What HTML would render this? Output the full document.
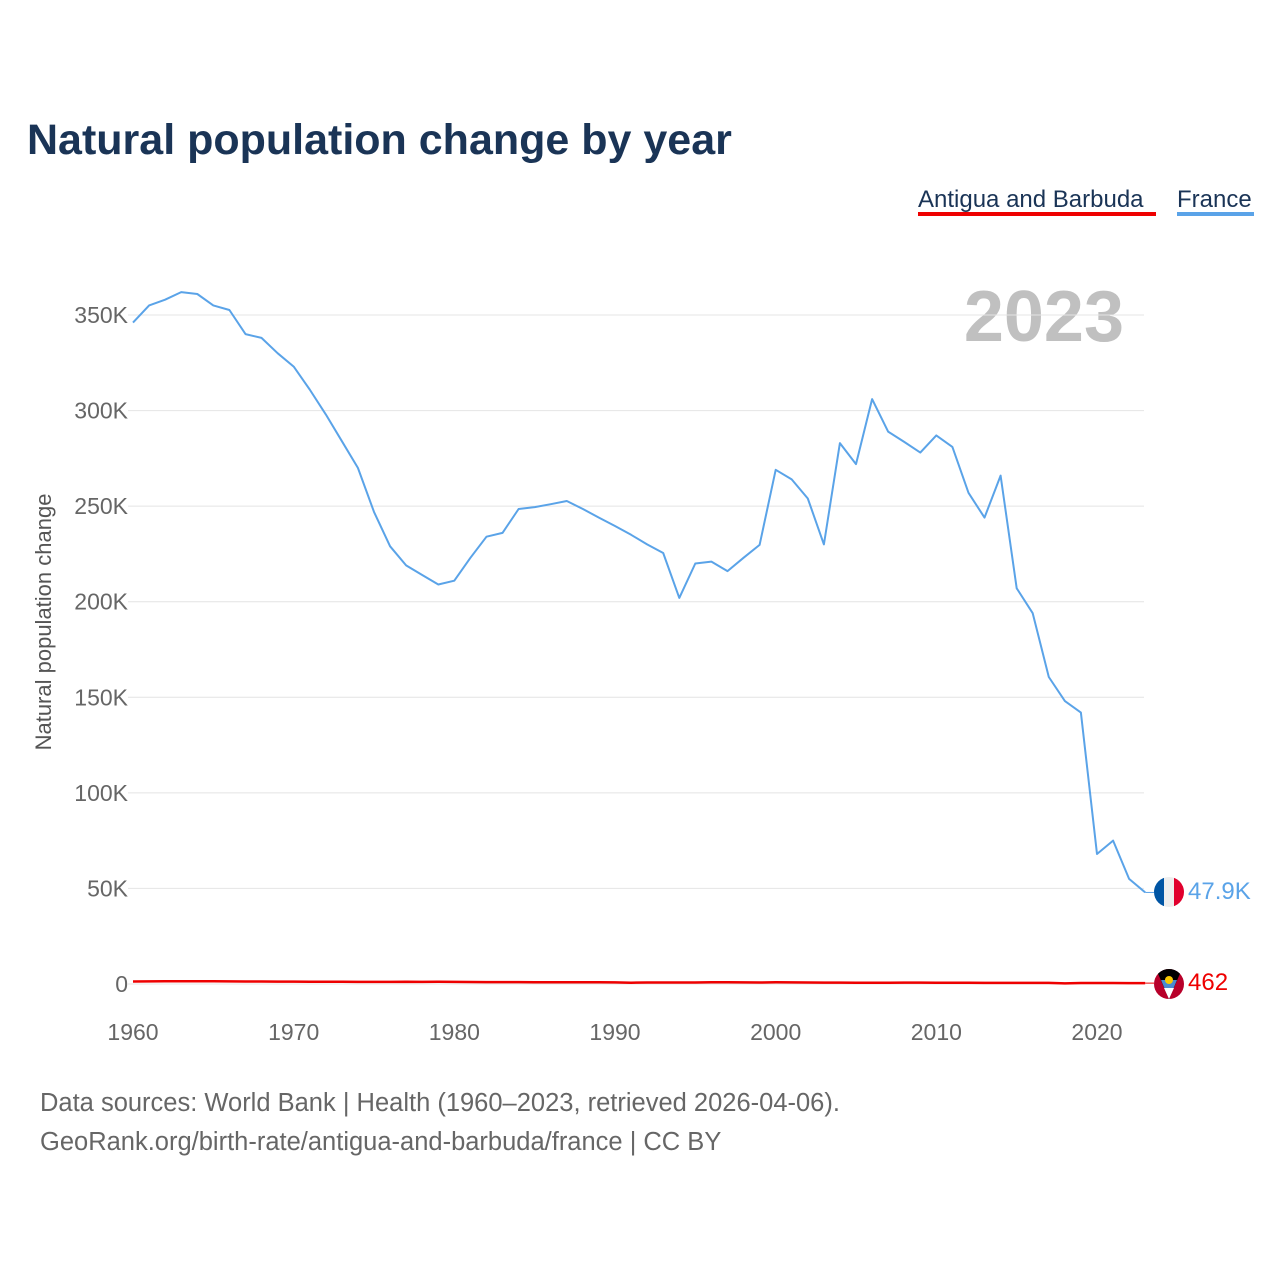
<!DOCTYPE html>
<html><head><meta charset="utf-8"><style>
body{margin:0;background:#fff;font-family:"Liberation Sans",sans-serif}
svg text{font-family:"Liberation Sans",sans-serif}
</style></head><body>
<svg width="1280" height="1280" viewBox="0 0 1280 1280">
<text x="27" y="154" font-size="43" font-weight="bold" fill="#1a3456">Natural population change by year</text>
<g>
<text x="918" y="207" font-size="24" fill="#1a3456">Antigua and Barbuda</text>
<rect x="918" y="212" width="238" height="4" fill="#ee0000"/>
<text x="1177" y="207" font-size="24" fill="#1a3456">France</text>
<rect x="1177" y="212" width="77" height="4" fill="#5aa3e8"/>
</g>
<text x="1124" y="341" text-anchor="end" font-size="72" font-weight="bold" fill="#c0c0c0">2023</text>
<g id="grid"></g><g id="ylab"></g><g id="xlab"></g>
<text transform="translate(51,622) rotate(-90)" text-anchor="middle" font-size="22" fill="#555">Natural population change</text>
<g id="series"></g>
<g>
<clipPath id="cf"><circle cx="1169" cy="892" r="15"/></clipPath>
<g clip-path="url(#cf)"><rect x="1154" y="877" width="10" height="30" fill="#0055a4"/><rect x="1164" y="877" width="10" height="30" fill="#eee"/><rect x="1174" y="877" width="10" height="30" fill="#e1002d"/></g></g>
<g>
<clipPath id="ca"><circle cx="1169" cy="984" r="15"/></clipPath>
<g clip-path="url(#ca)"><rect x="1154" y="969" width="30" height="30" fill="#b8002a"/>
<polygon points="1156,969 1182,969 1169,999" fill="#000"/>
<polygon points="1161,980 1177,980 1169,999" fill="#4a8ad0"/>
<polygon points="1164,988 1174,988 1169,999" fill="#fff"/>
<circle cx="1169" cy="980" r="4" fill="#f8c800"/></g></g>
<text x="1188" y="899" font-size="24" fill="#5aa3e8">47.9K</text>
<text x="1188" y="990" font-size="24" fill="#ee0000">462</text>
<text x="40" y="1111" font-size="25.5" fill="#666">Data sources: World Bank | Health (1960–2023, retrieved 2026-04-06).</text>
<text x="40" y="1150" font-size="25.5" fill="#666">GeoRank.org/birth-rate/antigua-and-barbuda/france | CC BY</text>
</svg>
<script>
const years=[];for(let y=1960;y<=2023;y++)years.push(y);
const france=[346,355,358,362,361,355,352.6,340,338,330,323,311,298,284,270,247,229,219,214,209,211,223,234,236,248.5,249.5,251,252.7,248.5,244,239.6,235,230,225.5,202,220,221,216,223,229.7,269,264,254,230,283,272,306,289,283.6,278,287,281,257,244,266,207,194,160.6,148,142,68,75,55,47.9];
const antigua=[1.3,1.35,1.4,1.4,1.4,1.4,1.35,1.3,1.3,1.25,1.25,1.2,1.2,1.15,1.1,1.1,1.1,1.2,1.1,1.15,1.1,1.05,1.0,1.0,1.0,0.95,0.95,0.9,0.9,0.9,0.85,0.7,0.8,0.8,0.8,0.8,0.9,0.9,0.85,0.8,0.9,0.85,0.8,0.75,0.75,0.7,0.7,0.7,0.75,0.75,0.7,0.7,0.65,0.6,0.6,0.6,0.55,0.55,0.3,0.5,0.5,0.5,0.45,0.462];
const yTicks=[0,50,100,150,200,250,300,350];
const xTicks=[1960,1970,1980,1990,2000,2010,2020];
const NS="http://www.w3.org/2000/svg";
const X=y=>133+(y-1960)*(1097-133)/60;
const Y=v=>984-v*(984-315)/350;
function mk(t,a,p){const e=document.createElementNS(NS,t);for(const k in a)e.setAttribute(k,a[k]);p.appendChild(e);return e;}
const grid=document.getElementById('grid'),yl=document.getElementById('ylab'),xl=document.getElementById('xlab'),ser=document.getElementById('series');
yTicks.forEach(v=>{
 const l=mk('line',{x1:128,x2:1144,y1:Y(v),y2:Y(v),stroke:'#e4e4e4','stroke-width':1},grid);
 
 
 const t=mk('text',{x:128,y:Y(v)+8,'text-anchor':'end','font-size':23,fill:'#666'},yl);
 t.textContent=v===0?'0':v+'K';
 
 
});
xTicks.forEach(v=>{
 const t=mk('text',{x:X(v),y:1040,'text-anchor':'middle','font-size':23,fill:'#666'},xl);
 t.textContent=v;
 
 
});
function line(d,c,w,n){
 const p=mk('path',{d:d.map((v,i)=>(i?'L':'M')+X(years[i]).toFixed(1)+','+Y(v).toFixed(1)).join(''),fill:'none',stroke:c,'stroke-width':w,'stroke-linejoin':'round'},ser);
 
 
 const last=d.length-1;
 mk('line',{x1:X(years[last]),x2:1154,y1:Y(d[last]),y2:Y(d[last]),stroke:c,'stroke-width':1},ser);
}
line(france,'#5aa3e8',2,'france-line');
line(antigua,'#ee0000',2.5,'antigua-line');
</script>
</body></html>
